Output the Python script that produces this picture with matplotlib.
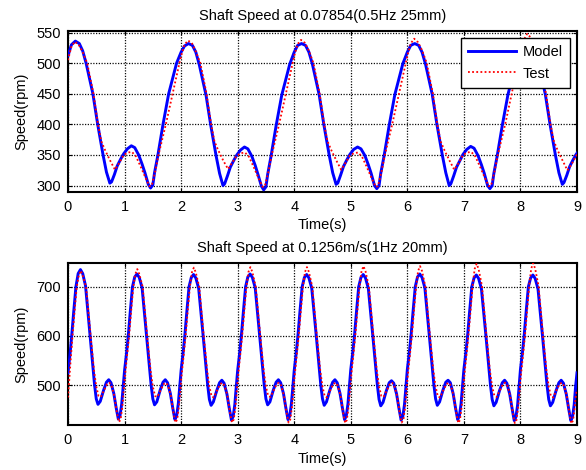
import matplotlib
matplotlib.use("Agg")
import matplotlib.pyplot as plt
import numpy as np

plt.rcParams['font.family'] = ['Liberation Sans', 'DejaVu Sans']
plt.rcParams['font.size'] = 10.5

# ---------------- data ----------------
titles = ["Shaft Speed at 0.07854(0.5Hz 25mm)", "Shaft Speed at 0.1256m/s(1Hz 20mm)"]
x_ticks = [0, 1, 2, 3, 4, 5, 6, 7, 8, 9]
top_yticks = [300, 350, 400, 450, 500, 550]
bot_yticks = [500, 600, 700]
top_ylim = [290, 553]
bot_ylim = [419, 749]

# top plot: period 2 s ; phase times within each cycle and values per cycle
top_period = 2.0
top_model_tau = [0, .06, .13, .20, .26, .32, .44, .525, .62, .68, .74, .77, .82, .87, .93,
                 .985, 1.05, 1.12, 1.18, 1.25, 1.31, 1.36, 1.42, 1.46, 1.50, 1.53, 1.59, 1.68, 1.78, 1.92]
top_model_rows = [
    [512, 530, 536, 532, 520, 500, 450, 400, 350, 322, 304, 306, 318, 332, 343, 352, 360, 365, 362, 350, 335, 321, 302, 296, 301, 321, 350, 400, 450, 500],
    [518, 528, 532, 529, 518, 498, 448, 398, 348, 320, 300, 303, 316, 330, 341, 350, 358, 363, 360, 348, 333, 318, 299, 293, 298, 318, 348, 398, 448, 498],
    [518, 529, 532, 529, 518, 499, 449, 399, 349, 321, 302, 304, 317, 331, 342, 351, 359, 363, 360, 349, 334, 320, 300, 295, 300, 320, 349, 399, 449, 499],
    [518, 529, 532, 529, 518, 499, 449, 399, 349, 321, 300, 303, 316, 330, 341, 351, 359, 364, 361, 349, 334, 320, 300, 295, 300, 320, 349, 399, 449, 499],
    [518, 529, 532, 529, 518, 499, 449, 399, 349, 321, 302, 305, 317, 331, 342, 351, 359],
]
top_test_tau = [0, .06, .12, .19, .26, .34, .45, .53, .59, .66, .75, .83, .90, .985,
                1.06, 1.13, 1.20, 1.28, 1.36, 1.44, 1.48, 1.54, 1.60, 1.73, 1.85, 1.97]
top_test_rows = [
    [505, 527, 535, 530, 518, 500, 450, 400, 372, 357, 340, 326, 336, 350, 354, 355, 348, 332, 315, 299, 300, 322, 350, 400, 450, 500],
    [512, 530, 537, 533, 519, 500, 450, 400, 372, 357, 340, 327, 337, 349, 353, 354, 347, 331, 314, 298, 299, 321, 349, 399, 449, 499],
    [512, 531, 538, 533, 520, 500, 450, 400, 372, 357, 340, 326, 336, 349, 353, 354, 347, 331, 314, 298, 299, 321, 349, 399, 449, 499],
    [512, 532, 540, 534, 521, 501, 451, 400, 372, 357, 340, 326, 336, 350, 354, 355, 348, 332, 315, 299, 300, 322, 350, 400, 452, 505],
    [516, 538, 548, 541, 523, 501, 451, 401, 373, 357, 340, 325, 334, 349, 354],
]

# bottom plot: period 1 s
bot_period = 1.0
bot_model_tau = [0, .035, .065, .10, .14, .18, .22, .26, .31, .39, .47, .50, .53, .57,
                 .63, .68, .72, .76, .81, .85, .89, .92, .95, .975]
bot_model_rows = [
    [525, 562, 600, 648, 700, 727, 735, 727, 702, 600, 500, 472, 461, 467, 490, 506, 511, 505, 483, 455, 431, 438, 462, 497],
    [530, 565, 600, 648, 700, 720, 726, 719, 698, 600, 500, 472, 460, 466, 490, 506, 511, 505, 483, 455, 430, 437, 462, 497],
    [530, 565, 600, 648, 700, 719, 725, 718, 697, 600, 500, 471, 459, 466, 489, 505, 510, 504, 482, 454, 429, 436, 461, 497],
    [530, 565, 600, 648, 700, 720, 726, 719, 698, 600, 500, 472, 460, 466, 490, 506, 511, 505, 483, 455, 430, 437, 462, 497],
    [530, 565, 600, 648, 700, 719, 725, 718, 697, 600, 500, 472, 459, 466, 490, 506, 511, 505, 483, 455, 430, 437, 462, 497],
    [532, 566, 600, 648, 700, 719, 725, 718, 697, 600, 500, 471, 458, 465, 489, 505, 509, 504, 482, 454, 429, 436, 461, 497],
    [532, 566, 600, 648, 700, 720, 726, 719, 698, 600, 500, 472, 459, 466, 490, 506, 510, 505, 483, 455, 430, 437, 462, 497],
    [532, 566, 600, 648, 700, 718, 724, 717, 696, 600, 500, 471, 458, 465, 489, 505, 510, 504, 482, 454, 428, 435, 460, 497],
    [532, 566, 600, 648, 700, 718, 724, 717, 696, 600, 500, 471, 458, 465, 489, 505, 510, 504, 482, 454, 428, 435, 460, 497],
    [525],
]
bot_test_tau = [0, .04, .08, .12, .155, .19, .225, .26, .32, .40, .46, .50, .54, .58,
                .63, .69, .73, .77, .82, .86, .90, .93, .96, .98]
bot_test_rows = [
    [475, 540, 600, 655, 700, 723, 733, 723, 700, 600, 530, 497, 478, 476, 488, 502, 505, 499, 478, 447, 425, 430, 455, 480],
    [510, 555, 600, 655, 700, 726, 736, 726, 700, 600, 530, 497, 478, 476, 488, 502, 505, 499, 478, 447, 424, 430, 455, 480],
    [510, 555, 600, 655, 700, 729, 739, 729, 700, 600, 530, 497, 477, 475, 488, 502, 505, 499, 478, 447, 424, 430, 455, 480],
    [510, 555, 600, 655, 700, 730, 740, 730, 700, 600, 530, 497, 478, 476, 488, 502, 505, 499, 478, 447, 424, 430, 455, 480],
    [510, 555, 600, 655, 700, 730, 740, 730, 700, 600, 530, 497, 477, 475, 488, 502, 505, 499, 478, 447, 423, 429, 455, 480],
    [510, 555, 600, 655, 700, 732, 742, 732, 700, 600, 530, 497, 478, 476, 488, 502, 505, 499, 478, 447, 424, 430, 455, 480],
    [510, 555, 600, 655, 700, 732, 742, 732, 700, 600, 530, 497, 477, 475, 488, 502, 505, 499, 478, 447, 423, 429, 455, 480],
    [510, 555, 600, 655, 702, 736, 747, 736, 702, 600, 530, 497, 478, 476, 488, 502, 505, 499, 478, 447, 423, 429, 455, 480],
    [510, 555, 600, 655, 702, 737, 748, 737, 702, 600, 530, 497, 477, 475, 488, 502, 505, 499, 478, 447, 422, 428, 455, 480],
    [490],
]


def assemble(tau, rows, period):
    t, v = [], []
    for i, row in enumerate(rows):
        for k, val in enumerate(row):
            t.append(i * period + tau[k])
            v.append(val)
    return np.array(t), np.array(v)


# ---------------- figure ----------------
W, H = 586, 470
fig = plt.figure(figsize=(W / 100, H / 100), dpi=100)
ax1 = fig.add_axes([68 / W, 1 - 191.7 / H, 509 / W, 161 / H])
ax2 = fig.add_axes([68 / W, 1 - 425 / H, 509 / W, 162.3 / H])

series = [
    (ax1, (top_model_tau, top_model_rows, top_period), (top_test_tau, top_test_rows, top_period), top_ylim, top_yticks),
    (ax2, (bot_model_tau, bot_model_rows, bot_period), (bot_test_tau, bot_test_rows, bot_period), bot_ylim, bot_yticks),
]

for i, (ax, m, te, ylim, yt) in enumerate(series):
    tm, vm = assemble(*m)
    tt, vt = assemble(*te)
    ax.plot(tm, vm, color=(0, 0, 1), lw=2.1, label="Model", zorder=3, solid_joinstyle='round')
    ax.plot(tt, vt, color=(1, 0, 0), lw=1.3, ls=(0, (1, 1.3)), label="Test", zorder=4)
    ax.set_xlim(0, 9)
    ax.set_ylim(*ylim)
    ax.set_xticks(x_ticks)
    ax.set_yticks(yt)
    ax.grid(True, color='0.05', ls=(0, (1, 1.2)), lw=0.9)
    ax.set_axisbelow(True)
    ax.tick_params(direction='in', top=True, right=True, length=3, width=0.8,
                   labelsize=10.5, pad=5)
    ax.tick_params(axis='x', pad=6)
    for s in ax.spines.values():
        s.set_linewidth(1.5)
    ax.set_xlabel("Time(s)", fontsize=10.5, labelpad=3)
    ax.set_ylabel("Speed(rpm)", fontsize=10.5, labelpad=6)
    ax.set_title(titles[i], fontsize=10.5, pad=8)

leg = ax1.legend(loc='upper right', fontsize=10.5, handlelength=3.3, handletextpad=0.4,
                 borderpad=0.5, labelspacing=0.5, fancybox=False, framealpha=1,
                 edgecolor='k', borderaxespad=0.5)
leg.get_frame().set_linewidth(1.0)
leg.set_zorder(10)

fig.savefig("out.png", dpi=100)
